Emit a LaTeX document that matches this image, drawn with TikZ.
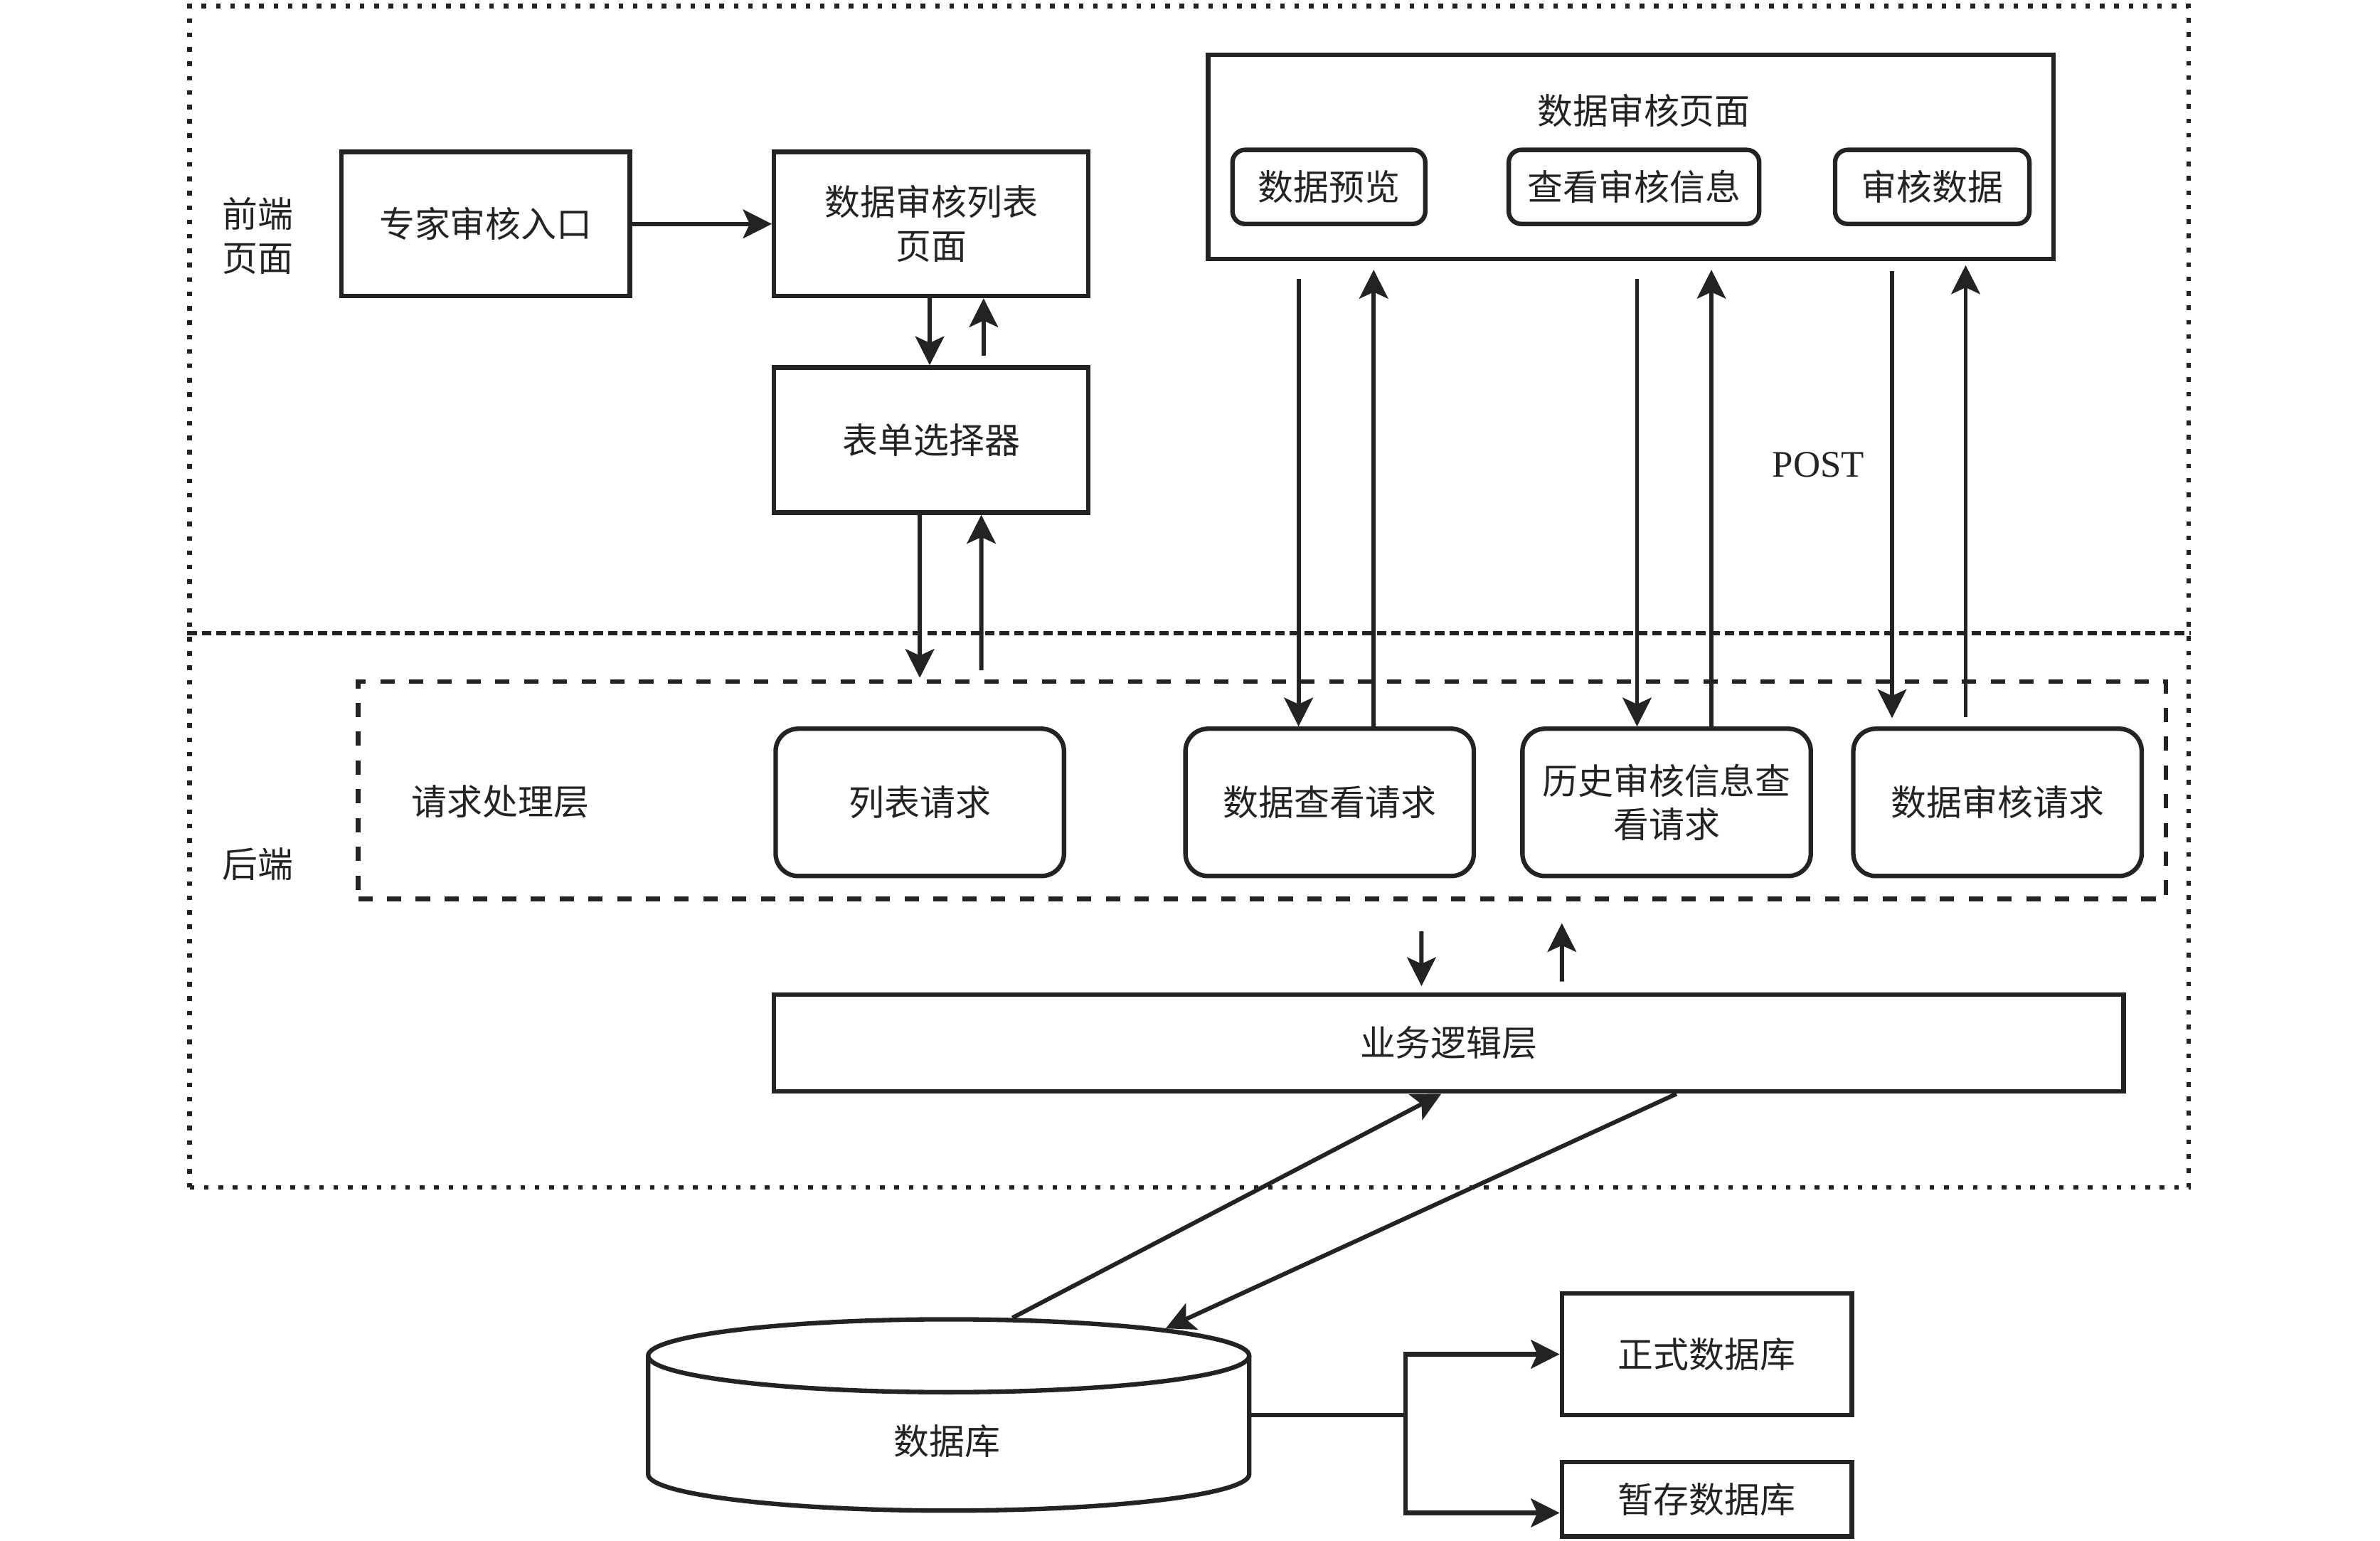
\documentclass[tikz,border=0pt]{standalone}
\usepackage{fontspec}
\setmainfont{Noto Sans CJK SC}
\newfontfamily\latinfont{Liberation Serif}
\usetikzlibrary{arrows.meta,fit,calc}
\definecolor{ink}{HTML}{232323}
\begin{document}
\begin{tikzpicture}[x=0.021339cm, y=-0.021339cm,
  font=\fontsize{14.2pt}{17.6pt}\selectfont, text=ink,
  every label/.style={align=center, inner sep=0pt},
  box/.style={draw=ink, line width=1.8pt, inner sep=0pt},
  rbox/.style={box, rounded corners=9pt},
  sbox/.style={box, rounded corners=5pt},
  arr/.style={draw=ink, line width=1.7pt, -{Stealth[length=11.5pt, width=11.5pt, inset=2.6pt]}},
  ln/.style={draw=ink, line width=1.8pt},
  dotline/.style={draw=ink, line width=1.85pt, dash pattern=on 1.85pt off 3.9pt, inner sep=0pt},
  divline/.style={draw=ink, line width=1.85pt, dash pattern=on 3.8pt off 2pt},
  dashline/.style={draw=ink, line width=1.85pt, dash pattern=on 5.7pt off 5.8pt, inner sep=0pt}]
\useasboundingbox (0,0) rectangle (1568,1015);

% frames
\node[dotline, fit={(125,4) (1442,782)}] (frame) {};
\draw[divline] (frame.west |- 0,417) coordinate (divL) -- (frame.east |- 0,417) coordinate (divR);
\node[dashline, fit={(236,449) (1427,592)}] (qq) {};

% labels
\node[align=center] (qd) at (170,155.5) {前端\\页面};
\node (hd) at (170,569) {后端};
\node (qqt) at (329.5,528) {请求处理层};
\node[font=\latinfont\fontsize{15pt}{18pt}\selectfont] (post) at (1198,306) {POST};

% front-end boxes
\node[box, fit={(225,100) (415,195)}, label=center:专家审核入口] (zj) {};
\node[box, fit={(510,100) (717,195)}, label={center:数据审核列表\\页面}] (sl) {};
\node[box, fit={(510,242) (717,337.6)}, label=center:表单选择器] (bd) {};

\node[box, fit={(796,36) (1353,170.7)}] (shy) {};
\node (shyt) at (1083,72.8) {数据审核页面};
\node[sbox, fit={(812,98.7) (939,147.5)}, label=center:数据预览] (yl) {};
\node[sbox, fit={(994,98.7) (1159,147.5)}, label=center:查看审核信息] (ck) {};
\node[sbox, fit={(1209,98.7) (1337,147.5)}, label=center:审核数据] (sh) {};

% request boxes
\node[rbox, fit={(511,480) (701,577)}, label=center:列表请求] (r1) {};
\node[rbox, fit={(781,480) (971,577)}, label=center:数据查看请求] (r2) {};
\node[rbox, fit={(1003,480) (1193,577)}, label={center:历史审核信息查\\看请求}] (r3) {};
\node[rbox, fit={(1221,480) (1411,577)}, label=center:数据审核请求] (r4) {};

% business layer
\node[box, fit={(510,655) (1399,719)}, label=center:业务逻辑层] (yw) {};

% database
\node[inner sep=0pt, fit={(427,869) (823,995)}] (db) {};
\draw[ln] (427,893) -- (427,971) arc[start angle=180, end angle=0, x radius=198, y radius=24] -- (823,893);
\draw[ln] (625,893) ellipse [x radius=198, y radius=24];
\node (dbt) at (624,949) {数据库};

\node[box, fit={(1029,852) (1220,932)}, label=center:正式数据库] (zs) {};
\node[box, fit={(1029,963) (1220,1012)}, label=center:暂存数据库] (zc) {};

% arrows, front end
\draw[arr] (zj.east) -- (sl.west);
\draw[arr] ($(sl.south west)+(104,0)$) -- ($(bd.north west)+(104,0)$);
\draw[arr] ($(bd.north west)+(139.5,-6)$) -- ($(sl.south west)+(139.5,0)$);
\draw[arr] ($(bd.south west)+(97.5,0)$) -- ($(qq.north west)+(371.5,-1)$);
\draw[arr] ($(qq.north west)+(412,-6)$) -- ($(bd.south west)+(138,0)$);

% arrows, review page <-> requests
\draw[arr] ($(shy.south west)+(61,11.5)$) -- ($(r2.north west)+(76,0)$);
\draw[arr] ($(r2.north west)+(125.5,0)$) -- ($(shy.south west)+(110.5,5.5)$);
\draw[arr] ($(shy.south west)+(284,11.5)$) -- ($(r3.north west)+(77,0)$);
\draw[arr] ($(r3.north west)+(126,0)$) -- ($(shy.south west)+(333,5.5)$);
\draw[arr] ($(shy.south west)+(452,6.5)$) -- ($(r4.north west)+(27,-5.5)$);
\draw[arr] ($(r4.north west)+(75.5,-6)$) -- ($(shy.south west)+(500.5,2.5)$);

% arrows, request layer <-> business layer
\draw[arr] ($(qq.south west)+(702,20)$) -- ($(yw.north west)+(428,-4)$);
\draw[arr] ($(yw.north west)+(520.5,-7)$) -- ($(qq.south west)+(794.5,14.5)$);

% arrows, business layer <-> database
\coordinate (dbA) at (667,868);
\coordinate (dbB) at (768,875);
\draw[arr] (dbA) -- ($(yw.south west)+(441,0)$);
\draw[arr] ($(yw.south west)+(596,0)$) -- (dbB);

% database -> stores
\coordinate (split) at (926,932);
\draw[ln] (db.east |- split) -- (split);
\draw[arr, line width=1.8pt] (split) |- (zs.west);
\draw[arr, line width=1.8pt] (split) |- ($(zc.north west)+(0,35)$);
\end{tikzpicture}
\end{document}
